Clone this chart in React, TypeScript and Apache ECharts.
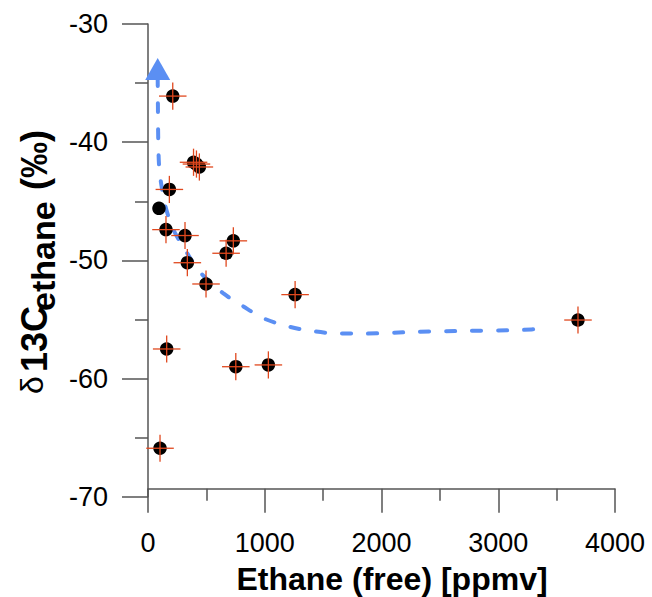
import React, { useEffect, useRef } from "react";
import * as echarts from "echarts";

// Measured points: ethane (free) [ppmv] vs δ13C ethane (‰)
const ethane = [212, 390, 415, 440, 183, 94, 154, 317, 731, 669, 337, 497, 1260, 160, 752, 1031, 103, 3683];
const d13C = [-36.1, -41.7, -41.85, -42.1, -44.0, -45.6, -47.4, -47.9, -48.35, -49.4, -50.2, -52.0, -52.9, -57.5, -59.0, -58.85, -65.9, -55.05];
const ethaneErr = [118, 118, 118, 118, 118, 0, 118, 118, 118, 118, 118, 118, 118, 118, 118, 118, 118, 118];
const d13CErr = [1.15, 1.15, 1.15, 1.15, 1.15, 0, 1.15, 1.15, 1.15, 1.15, 1.15, 1.15, 1.15, 1.15, 1.15, 1.15, 1.15, 1.15];

// Trend curve (dashed blue)
const trendX = [83, 85, 88, 95, 111, 146, 212, 317, 446, 646, 817, 989, 1203, 1417, 1646, 1846, 2297, 2731, 3180, 3420];
const trendY = [-34.5, -37, -40, -42, -43.4, -45.3, -47.3, -49.1, -51.0, -52.8, -53.9, -54.9, -55.6, -56.0, -56.2, -56.2, -56.05, -55.97, -55.9, -55.75];
const arrowTip = [83, -33.8];

const xTicks = { min: 0, max: 4000, interval: 1000 };
const yTicks = { min: -70, max: -30, interval: 10 };

const FONT = "'Liberation Sans', Arial, sans-serif";
const BLUE = "#5b8ff3";
const ERR = "#e0481e";
const AXIS = "#555555";

export default function App() {
  const ref = useRef<HTMLDivElement>(null);
  useEffect(() => {
    if (!ref.current) return;
    const chart = echarts.init(ref.current, undefined, { renderer: "svg" });
    const points = ethane.map((x, i) => [x, d13C[i], ethaneErr[i], d13CErr[i]]);
    const axisCommon = {
      splitLine: { show: false },
      axisLine: { show: true, lineStyle: { color: AXIS, width: 1.5 } },
      axisTick: { show: true, inside: false, lineStyle: { color: AXIS, width: 1.5 } },
      minorTick: { show: true, splitNumber: 2, lineStyle: { color: AXIS, width: 1.5 } },
      minorSplitLine: { show: false },
      axisLabel: { color: "#000", fontSize: 27, fontFamily: FONT, formatter: (v: number) => String(v) },
    };
    chart.setOption({
      animation: false,
      grid: { left: 148, top: 24, right: 37, bottom: 100.3 },
      xAxis: {
        type: "value",
        ...xTicks,
        ...axisCommon,
        offset: -8,
        axisTick: { ...axisCommon.axisTick, length: 24 },
        minorTick: { ...axisCommon.minorTick, length: 12 },
        axisLabel: { ...axisCommon.axisLabel, margin: 41 },
      },
      yAxis: {
        type: "value",
        ...yTicks,
        ...axisCommon,
        axisTick: { ...axisCommon.axisTick, length: 26 },
        minorTick: { ...axisCommon.minorTick, length: 13 },
        axisLabel: { ...axisCommon.axisLabel, margin: 40 },
      },
      graphic: [
        {
          type: "text",
          x: 392,
          y: 579,
          style: { text: "Ethane (free) [ppmv]", font: `bold 32px ${FONT}`, fill: "#000", align: "center", verticalAlign: "middle" },
        },
        {
          type: "text",
          x: 32,
          y: 394,
          rotation: Math.PI / 2,
          style: { text: "δ", font: `32px ${FONT}`, fill: "#000", align: "left", verticalAlign: "middle" },
        },
        {
          type: "text",
          x: 34,
          y: 372,
          rotation: Math.PI / 2,
          style: { text: "13C", font: `bold 36px ${FONT}`, fill: "#000", align: "left", verticalAlign: "middle" },
        },
        {
          type: "text",
          x: 43,
          y: 311,
          rotation: Math.PI / 2,
          style: { text: "ethane", font: `bold 34px ${FONT}`, fill: "#000", align: "left", verticalAlign: "middle" },
        },
        {
          type: "text",
          x: 34,
          y: 190,
          rotation: Math.PI / 2,
          style: { text: "(‰)", font: `bold 36px ${FONT}`, fill: "#000", align: "left", verticalAlign: "middle" },
        },
      ],
      series: [
        {
          type: "line",
          data: trendX.map((x, i) => [x, trendY[i]]),
          smooth: 0.3,
          showSymbol: false,
          lineStyle: { color: BLUE, width: 4, type: [9, 17], cap: "round" },
          z: 2,
        },
        {
          type: "scatter",
          data: [arrowTip],
          symbol: "triangle",
          symbolSize: [25, 22],
          itemStyle: { color: BLUE, opacity: 1 },
          z: 3,
        },
        {
          type: "scatter",
          data: points.map((p) => [p[0], p[1]]),
          symbol: "circle",
          symbolSize: 13.5,
          itemStyle: { color: "#000", opacity: 1 },
          z: 4,
        },
        {
          type: "custom",
          data: points,
          encode: { x: 0, y: 1 },
          z: 5,
          renderItem: (params: any, api: any) => {
            const x = api.value(0), y = api.value(1), ex = api.value(2), ey = api.value(3);
            if (!ex && !ey) return { type: "group", children: [] };
            const l = api.coord([x - ex, y]);
            const r = api.coord([x + ex, y]);
            const t = api.coord([x, y + ey]);
            const b = api.coord([x, y - ey]);
            const style = { stroke: ERR, lineWidth: 1.3 };
            return {
              type: "group",
              children: [
                { type: "line", shape: { x1: l[0], y1: l[1], x2: r[0], y2: r[1] }, style },
                { type: "line", shape: { x1: t[0], y1: t[1], x2: b[0], y2: b[1] }, style },
              ],
            };
          },
        },
      ],
    });
    return () => chart.dispose();
  }, []);
  return <div ref={ref} style={{ position: "absolute", left: 0, top: 0, width: 652, height: 597 }} />;
}
